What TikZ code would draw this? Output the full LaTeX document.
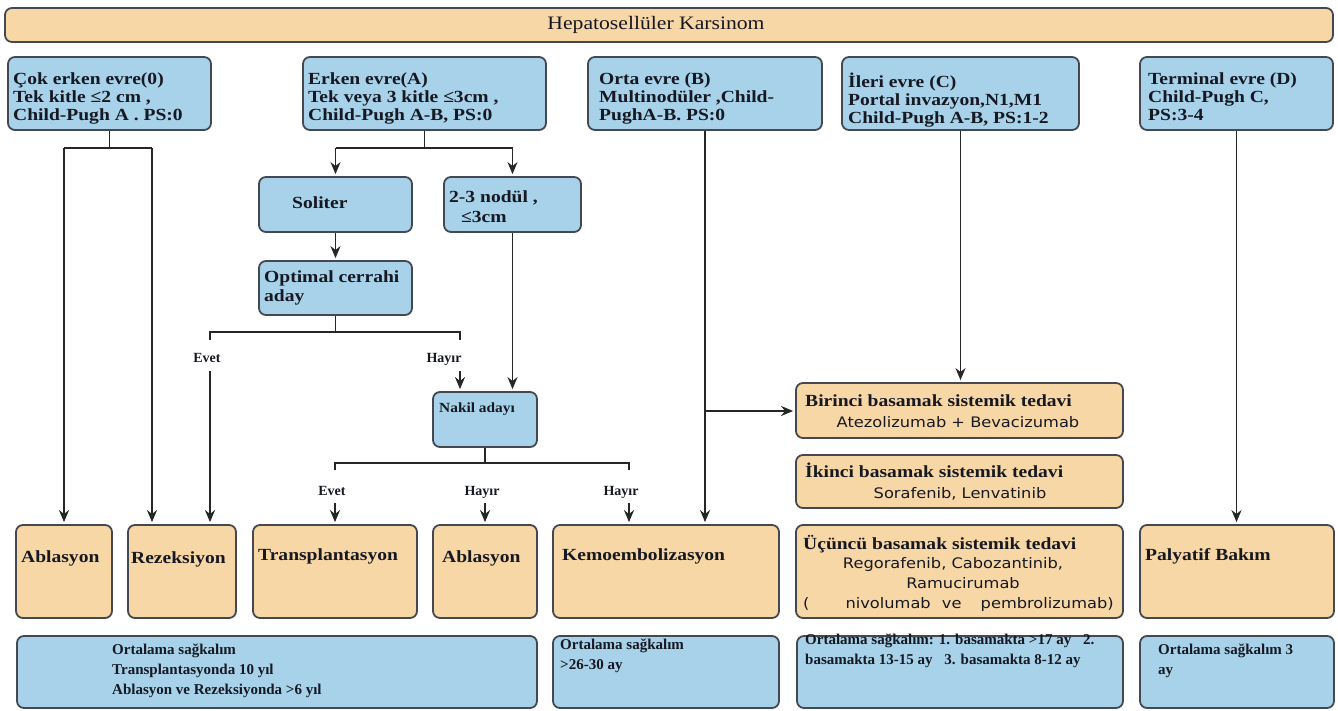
\documentclass[tikz,border=0pt]{standalone}
\usepackage{fontspec}
\setmainfont{Liberation Serif}[FakeStretch=1.15]
\newfontfamily\ttlfont{Liberation Serif}[FakeStretch=1.14]
\newfontfamily\drugfont{DejaVu Sans}[FakeStretch=1.12]
\newfontfamily\smfont{Liberation Serif}[FakeStretch=1.0]
\newfontfamily\nkfont{Liberation Serif}[FakeStretch=1.1]
\usetikzlibrary{arrows.meta,fit}
\definecolor{bluefill}{RGB}{168,210,234}
\definecolor{peach}{RGB}{247,215,166}
\definecolor{edgec}{RGB}{68,72,80}
\definecolor{ink}{RGB}{22,24,34}
\definecolor{linec}{RGB}{38,38,38}
\tikzset{
  bbox/.style={draw=edgec, line width=1.8pt, rounded corners=7pt, fill=bluefill, inner sep=0pt},
  obox/.style={bbox, fill=peach},
  hd/.style={inner sep=0pt, anchor=north west, align=left, text=ink,
    font=\fontsize{17}{18}\selectfont\bfseries, execute at begin node={\strut}},
  hdone/.style={inner sep=0pt, text=ink, font=\fontsize{17}{18}\selectfont\bfseries},
  ttl/.style={inner sep=0pt, text=ink, font=\ttlfont\fontsize{19}{22}\selectfont},
  drug/.style={inner sep=0pt, text=ink, font=\drugfont\fontsize{14.5}{18}\selectfont},
  lbl/.style={inner sep=0pt, text=ink, font=\smfont\fontsize{14}{16}\selectfont\bfseries},
  nk/.style={inner sep=0pt, text=ink, font=\nkfont\fontsize{14}{16}\selectfont\bfseries},
  sv/.style={inner sep=0pt, anchor=north west, align=left, text=ink,
    font=\smfont\fontsize{15}{20}\selectfont\bfseries, execute at begin node={\strut}},
  conn/.style={draw=linec, line width=1.7pt},
  arr/.style={conn, -{Stealth[length=12pt,width=10pt]}, shorten >=2pt}
}
\begin{document}
\begin{tikzpicture}[x=1pt,y=-1pt]
\useasboundingbox (0,0) rectangle (1338,711);
\fill[white] (0,0) rectangle (1338,711);

% title
\node[obox, fit={(5,8)(1333,42)}] (title) {};
\node[ttl, anchor=base] (titletext) at (656,30) {Hepatosellüler Karsinom};

% top stage boxes
\node[bbox, fit={(8,57)(211,130)}] (b0) {};
\node[hd] (b0t) at (13,72.4) {Çok erken evre(0)\\Tek kitle ≤2 cm ,\\Child-Pugh A . PS:0};
\node[bbox, fit={(303,57)(546,130)}] (bA) {};
\node[hd] (bAt) at (308,72.4) {Erken evre(A)\\Tek veya 3 kitle ≤3cm ,\\Child-Pugh A-B, PS:0};
\node[bbox, fit={(588,57)(822,130)}] (bB) {};
\node[hd] (bBt) at (599,72.4) {Orta evre (B)\\Multinodüler ,Child-\\PughA-B. PS:0};
\node[bbox, fit={(842,57)(1079,130)}] (bC) {};
\node[hd] (bCt) at (848,72.4) {İleri evre (C)\\Portal invazyon,N1,M1\\Child-Pugh A-B, PS:1-2};
\node[bbox, fit={(1140,57)(1333,130)}] (bD) {};
\node[hd] (bDt) at (1148,72.4) {Terminal evre (D)\\Child-Pugh C,\\PS:3-4};

% second level
\node[bbox, fit={(259,177)(412,232)}] (sol) {};
\node[hdone, anchor=base west] (solt) at (292,209) {Soliter};
\node[bbox, fit={(444,177)(581,232)}] (nod) {};
\node[hd, font=\fontsize{17}{20}\selectfont\bfseries] (nodt) at (449,191) {2-3 nodül ,\\\hspace{12pt}≤3cm};
\node[bbox, fit={(259,261)(412,315)}] (opt) {};
\node[hd, font=\fontsize{17}{19}\selectfont\bfseries] (optt) at (264,270.7) {Optimal cerrahi\\aday};
\node[bbox, fit={(433,392)(537,447)}] (nak) {};
\node[nk, anchor=base west] (nakt) at (439,412) {Nakil adayı};

% labels
\node[lbl, anchor=base] (ev1) at (207,362) {Evet};
\node[lbl, anchor=base] (hy1) at (444,362) {Hayır};
\node[lbl, anchor=base] (ev2) at (332,495) {Evet};
\node[lbl, anchor=base] (hy2) at (482,495) {Hayır};
\node[lbl, anchor=base] (hy3) at (621,495) {Hayır};

% systemic therapy column
\node[obox, fit={(796,383)(1123,438)}] (t1) {};
\node[hdone, anchor=base west] (t1h) at (805,406) {Birinci basamak sistemik tedavi};
\node[drug, anchor=base] (t1d) at (958,427) {Atezolizumab + Bevacizumab};
\node[obox, fit={(796,455)(1123,508)}] (t2) {};
\node[hdone, anchor=base west] (t2h) at (805,477) {İkinci basamak sistemik tedavi};
\node[drug, anchor=base] (t2d) at (960,498) {Sorafenib, Lenvatinib};
\node[obox, fit={(796,525)(1123,618)}] (t3) {};
\node[hdone, anchor=base west] (t3h) at (803,549) {Üçüncü basamak sistemik tedavi};
\node[drug, anchor=base] (t3d1) at (953,568) {Regorafenib, Cabozantinib,};
\node[drug, anchor=base] (t3d2) at (963,588) {Ramucirumab};
\node[drug, anchor=base west] (t3d3) at (803,608) {(\hspace{36pt}nivolumab\hspace{6pt} ve\hspace{14pt} pembrolizumab)};

% treatment boxes
\node[obox, fit={(16,525)(112,618)}] (ab1) {};
\node[hdone, anchor=base west] (ab1t) at (21,562) {Ablasyon};
\node[obox, fit={(128,525)(236,618)}] (rez) {};
\node[hdone, anchor=base west] (rezt) at (131,563) {Rezeksiyon};
\node[obox, fit={(253,525)(417,618)}] (trn) {};
\node[hdone, anchor=base west] (trnt) at (258,560) {Transplantasyon};
\node[obox, fit={(433,525)(537,618)}] (ab2) {};
\node[hdone, anchor=base west] (ab2t) at (442,562) {Ablasyon};
\node[obox, fit={(553,525)(779,618)}] (kem) {};
\node[hdone, anchor=base west] (kemt) at (562,560) {Kemoembolizasyon};
\node[obox, fit={(1140,525)(1334,618)}] (pal) {};
\node[hdone, anchor=base west] (palt) at (1145,560) {Palyatif Bakım};

% survival boxes
\node[bbox, fit={(17,636)(537,708)}] (s1) {};
\node[sv] (s1t) at (112,644) {Ortalama sağkalım\\Transplantasyonda 10 yıl\\Ablasyon ve Rezeksiyonda >6 yıl};
\node[bbox, fit={(553,636)(779,708)}] (s2) {};
\node[sv] (s2t) at (560,639) {Ortalama sağkalım\\>26-30 ay};
\node[bbox, fit={(797,636)(1123,708)}] (s3) {};
\node[sv] (s3t) at (805,634) {Ortalama sağkalım: 1. basamakta >17 ay\hspace{8pt} 2.\\basamakta 13-15 ay\hspace{8pt} 3. basamakta 8-12 ay};
\node[bbox, fit={(1140,636)(1334,708)}] (s4) {};
\node[sv] (s4t) at (1158,644) {Ortalama sağkalım 3\\ay};

% connectors: stage 0
\draw[conn] (b0.south) -- ++(0,18);
\coordinate (j0l) at (64,148);
\coordinate (j0r) at (152,148);
\draw[conn] (j0l) -- (j0r);
\draw[arr] (j0l) -- (j0l |- ab1.north);
\draw[arr] (j0r) -- (j0r |- rez.north);

% stage A
\draw[conn] (bA.south) -- ++(0,18);
\coordinate (jAl) at (335.5,148);
\coordinate (jAr) at (512.5,148);
\draw[conn] (jAl) -- (jAr);
\draw[arr] (jAl) -- (sol.north);
\draw[arr] (jAr) -- (nod.north);
\draw[arr] (sol.south) -- (opt.north);
\draw[conn] (opt.south) -- ++(0,17);
\coordinate (jOl) at (210,332);
\coordinate (jOr) at (460,332);
\draw[conn] (jOl) ++(0,8) -- (jOl) -- (jOr) -- ++(0,8);
\coordinate (e1) at (210,371);
\coordinate (h1) at (460,371);
\draw[arr] (e1) -- (e1 |- rez.north);
\draw[arr] (h1) -- (h1 |- nak.north);
\draw[arr] (nod.south) -- (nod.south |- nak.north);
\draw[conn] (nak.south) -- ++(0,16);
\coordinate (jNl) at (335,463);
\coordinate (jNr) at (629,463);
\draw[conn] (jNl) ++(0,7) -- (jNl) -- (jNr) -- ++(0,7);
\coordinate (n1) at (335,503);
\coordinate (n2) at (485,503);
\coordinate (n3) at (629,503);
\draw[arr] (n1) -- (n1 |- trn.north);
\draw[arr] (n2) -- (n2 |- ab2.north);
\draw[arr] (n3) -- (n3 |- kem.north);

% stage B, C, D
\draw[arr] (bB.south) -- (bB.south |- kem.north);
\coordinate (jB) at (705,411);
\draw[arr] (jB) -- (jB -| t1.west);
\draw[arr] (bC.south) -- (bC.south |- t1.north);
\draw[arr] (bD.south) -- (bD.south |- pal.north);
\end{tikzpicture}
\end{document}
